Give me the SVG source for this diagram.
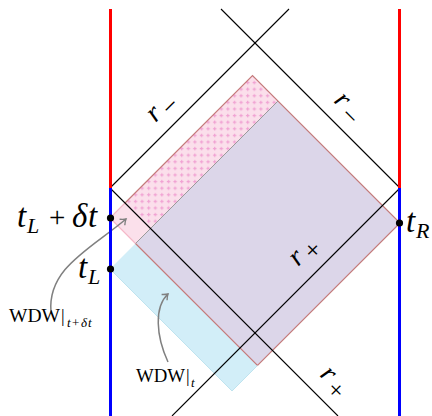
<svg xmlns="http://www.w3.org/2000/svg" width="432" height="416" viewBox="0 0 432 416">
<style>
.nul{stroke:#000;stroke-width:1.1;fill:none}
.edge{stroke:#c47b7b;stroke-width:1.2;fill:none}
.edgel{stroke:#f4b8c8;stroke-width:1.2;fill:none}
text{font-family:'Liberation Serif','Times New Roman','DejaVu Serif',serif;fill:#000}
.m{font-style:italic}
.u{font-style:normal}
.arr{stroke:#808080;stroke-width:1.5;fill:none;marker-end:url(#ah)}
</style>
<defs>
<pattern id="dots" patternUnits="userSpaceOnUse" width="6.6" height="6.6">
<rect x="0" y="0" width="6.6" height="6.6" fill="#fbdfeb"/>
<rect x="1.8" y="2.8" width="3.4" height="1.2" fill="#f1a2d3"/>
<rect x="2.9" y="1.7" width="1.2" height="3.4" fill="#f1a2d3"/>
</pattern>
<marker id="ah" markerUnits="userSpaceOnUse" markerWidth="12" markerHeight="12" refX="0" refY="0" viewBox="-7 -6 9 12" orient="auto">
<path d="M-5,-4 Q-2,-1 0,0 Q-2,1 -5,4" stroke="#808080" stroke-width="1.4" fill="none"/>
</marker>
</defs>

<g id="wdw-regions">
<polygon id="pink-dotted" points="252.5,75.5 278,101 150.5,228.5 125,203" fill="url(#dots)"/>
<polygon id="pink-plain" points="125,203 150.5,228.5 135.5,243.5 110,218" fill="#fbe0eb"/>
<polygon id="blue-only" points="135.5,243.5 257.5,365.5 232,391 110,269" fill="#d2eef8"/>
<polygon id="overlap" points="278,101 400,223 257.5,365.5 135.5,243.5" fill="#dcd6e9"/>
<path class="edge" d="M125,203 L252.5,75.5 L400,223 L257.5,365.5 L135.5,243.5"/>
<path class="edgel" d="M125,203 L110,218 L135.5,243.5"/>
<path d="M278,101 L135.5,243.5" stroke="#9a9a9a" stroke-width="1" fill="none"/>
<path d="M257.5,365.5 L232,391 L110,269" stroke="#bfe3ee" stroke-width="1" fill="none"/>
</g>

<g id="connectors">
<line class="nul" x1="110" y1="188" x2="289" y2="9"/>
<line class="nul" x1="400" y1="188" x2="221" y2="9"/>
<line class="nul" x1="110" y1="188" x2="338" y2="416"/>
<line class="nul" x1="400" y1="188" x2="172" y2="416"/>
<path class="arr" d="M51,312 C47,268 92,248 126,219"/>
<path class="arr" d="M168,362 C156,336 154,307 168,294"/>
</g>

<g id="boundaries">
<line x1="110.5" y1="9" x2="110.5" y2="188" stroke="#ff0000" stroke-width="3"/>
<line x1="110.5" y1="188" x2="110.5" y2="416" stroke="#0000ff" stroke-width="3"/>
<line x1="399.5" y1="9" x2="399.5" y2="188" stroke="#ff0000" stroke-width="3"/>
<line x1="399.5" y1="188" x2="399.5" y2="416" stroke="#0000ff" stroke-width="3"/>
</g>

<g id="point-tL-dt">
<circle cx="110.5" cy="218" r="3.6" fill="#000"/>
<text class="m" x="17" y="227" font-size="33">t</text>
<text class="m" x="27" y="233" font-size="22">L</text>
<text class="u" x="49" y="227" font-size="29">+</text>
<text class="m" x="72" y="227" font-size="33">δ</text>
<text class="m" x="88" y="227" font-size="33">t</text>
</g>

<g id="point-tL">
<circle cx="110.5" cy="269" r="3.6" fill="#000"/>
<text class="m" x="78" y="278" font-size="33">t</text>
<text class="m" x="88" y="284" font-size="22">L</text>
</g>

<g id="point-tR">
<circle cx="399.5" cy="223" r="3.6" fill="#000"/>
<text class="m" x="406" y="232" font-size="33">t</text>
<text class="m" x="416" y="238" font-size="22">R</text>
</g>

<g id="label-r-minus-left" transform="translate(155.4,123) rotate(-45)">
<text class="m" x="0" y="0" font-size="28">r</text>
<text class="u" x="15" y="7" font-size="26">−</text>
</g>
<g id="label-r-minus-right" transform="translate(333,101.4) rotate(45)">
<text class="m" x="0" y="0" font-size="28">r</text>
<text class="u" x="15" y="7" font-size="26">−</text>
</g>
<g id="label-r-plus-mid" transform="translate(298,267) rotate(-45)">
<text class="m" x="0" y="0" font-size="28">r</text>
<text class="u" x="15" y="7" font-size="26">+</text>
</g>
<g id="label-r-plus-right" transform="translate(319,375.4) rotate(45)">
<text class="m" x="0" y="0" font-size="28">r</text>
<text class="u" x="15" y="7" font-size="26">+</text>
</g>

<g id="label-wdw-tdt">
<text class="u" x="9" y="322" font-size="18" textLength="51" lengthAdjust="spacingAndGlyphs">WDW</text>
<text class="u" x="61" y="322" font-size="18">|</text>
<text class="m" x="67" y="327" font-size="13">t</text>
<text class="u" x="72" y="327" font-size="13">+</text>
<text class="m" x="81" y="327" font-size="13">δ</text>
<text class="m" x="88" y="327" font-size="13">t</text>
</g>

<g id="label-wdw-t">
<text class="u" x="136" y="382" font-size="18" textLength="49" lengthAdjust="spacingAndGlyphs">WDW</text>
<text class="u" x="186" y="382" font-size="18">|</text>
<text class="m" x="191" y="387" font-size="13">t</text>
</g>
</svg>
